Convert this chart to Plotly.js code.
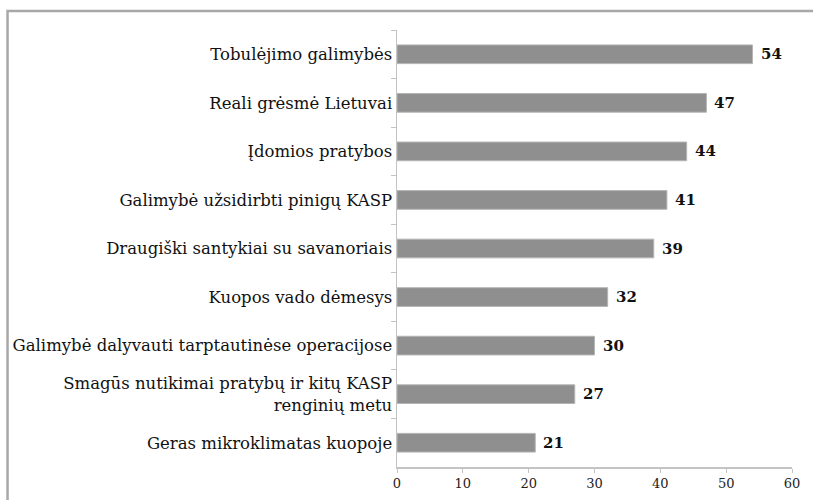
<!DOCTYPE html>
<html>
<head>
<meta charset="utf-8">
<script src="https://cdn.plot.ly/plotly-3.0.1.min.js"></script>
<style>html,body{margin:0;padding:0;background:#fff;}#chart{width:813px;height:500px;}</style>
</head>
<body>
<div id="chart"></div>
<script>
var categories = [
  "Tobulėjimo galimybės",
  "Reali grėsmė Lietuvai",
  "Įdomios pratybos",
  "Galimybė užsidirbti pinigų KASP",
  "Draugiški santykiai su savanoriais",
  "Kuopos vado dėmesys",
  "Galimybė dalyvauti tarptautinėse operacijose",
  "Smagūs nutikimai pratybų ir kitų KASP<br>renginių metu",
  "Geras mikroklimatas kuopoje"
];
var values = [54, 47, 44, 41, 39, 32, 30, 27, 21];
var xTicks = [0, 10, 20, 30, 40, 50, 60];

var serif = "DejaVu Serif";

var trace = {
  type: 'bar',
  orientation: 'h',
  x: values,
  y: categories,
  width: 0.385,
  marker: {color: '#8f8f8f', line: {color: '#b5b5b5', width: 1}},
  hoverinfo: 'none'
};

var annotations = values.map(function(v, i) {
  return {
    x: v, y: categories[i], xref: 'x', yref: 'y',
    text: '<b>' + v + '</b>', showarrow: false,
    xanchor: 'left', yanchor: 'middle', xshift: 6, yshift: 0,
    font: {family: serif, size: 15, color: '#111'}
  };
});

var layout = {
  width: 813, height: 500,
  margin: {l: 397, r: 21, t: 30, b: 33},
  paper_bgcolor: '#fff', plot_bgcolor: '#fff',
  showlegend: false,
  font: {family: serif},
  xaxis: {
    range: [0, 60], tickvals: xTicks, ticktext: xTicks.map(String),
    showgrid: false, zeroline: false, showline: true, linecolor: '#c3c3c3', linewidth: 1.5,
    ticks: 'outside', ticklen: 4, tickcolor: '#c3c3c3',
    tickfont: {family: serif, size: 13, color: '#222'}, fixedrange: true
  },
  yaxis: {
    autorange: 'reversed', type: 'category',
    showgrid: false, zeroline: false, showline: true, linecolor: '#c3c3c3', linewidth: 1.5,
    ticks: 'outside', ticklen: 5, tickcolor: '#c3c3c3', tickson: 'boundaries',
    tickfont: {family: serif, size: 16.5, color: '#111'}, fixedrange: true
  },
  annotations: annotations,
  shapes: [{
    type: 'rect', xref: 'paper', yref: 'paper',
    x0: -0.986, x1: 1.6, y0: -0.3, y1: 1.0435,
    line: {color: '#a8a8a8', width: 2.5}, fillcolor: 'rgba(0,0,0,0)', layer: 'below'
  }]
};

Plotly.newPlot('chart', [trace], layout, {displayModeBar: false, staticPlot: true});
</script>
</body>
</html>
